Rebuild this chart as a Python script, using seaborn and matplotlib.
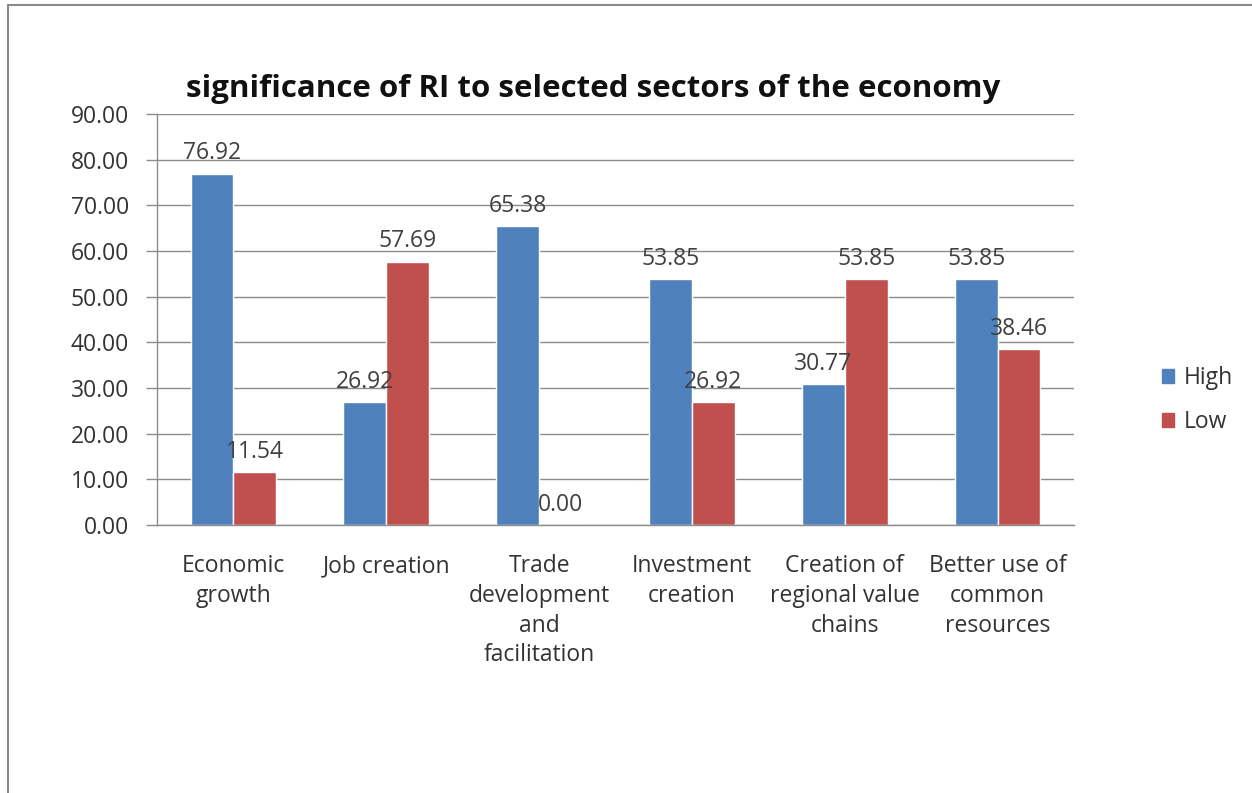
import matplotlib
matplotlib.use("Agg")
import matplotlib.pyplot as plt
import seaborn as sns
import pandas as pd
from matplotlib.lines import Line2D
from matplotlib.patches import Rectangle

categories = [
    "Economic\ngrowth",
    "Job creation",
    "Trade\ndevelopment\nand\nfacilitation",
    "Investment\ncreation",
    "Creation of\nregional value\nchains",
    "Better use of\ncommon\nresources",
]
high = [76.92, 26.92, 65.38, 53.85, 30.77, 53.85]
low = [11.54, 57.69, 0.00, 26.92, 53.85, 38.46]
series = ["High", "Low"]
colors = ["#4F81BD", "#C0504D"]
yticks = [0, 10, 20, 30, 40, 50, 60, 70, 80, 90]

df = pd.DataFrame({
    "sector": categories * 2,
    "level": ["High"] * len(categories) + ["Low"] * len(categories),
    "value": high + low,
})

sns.set_theme(style="white")
plt.rcParams["font.family"] = ["Open Sans", "DejaVu Sans"]

fs = 16.5
fig = plt.figure(figsize=(12.52, 7.93), dpi=100)
ax = fig.add_axes([157 / 1252, 1 - 525 / 793, (1074 - 157) / 1252, (525 - 114) / 793])

sns.barplot(data=df, x="sector", y="value", hue="level", order=categories,
            hue_order=series, palette=colors, width=0.56, gap=0,
            saturation=1, errorbar=None, ax=ax, legend=False)

for cont in ax.containers:
    ax.bar_label(cont, fmt="%.2f", padding=6, fontsize=fs, color="#404040")

grid_c = "#8C8C8C"
ax.set_ylim(0, 90)
ax.set_yticks(yticks)
ax.set_yticklabels([f"{v:.2f}" for v in yticks], fontsize=fs, color="#333333")
ax.set_xlim(-0.5, len(categories) - 0.5)
ax.set_xticks(range(len(categories)))
ax.set_xticklabels(categories, fontsize=fs, color="#333333", linespacing=1.32,
                   va="top")
ax.set_xticks([i - 0.5 for i in range(len(categories) + 1)], minor=True)
ax.tick_params(axis="x", which="major", length=0, pad=21)
ax.tick_params(axis="x", which="minor", length=7, color=grid_c, width=1, direction="out")
ax.tick_params(axis="y", length=8, color=grid_c, width=1, direction="out", left=True, pad=12)
ax.set_axisbelow(True)
ax.yaxis.grid(True, color=grid_c, linewidth=1)
ax.xaxis.grid(False)
for s in ["top", "right"]:
    ax.spines[s].set_visible(False)
for s in ["left", "bottom"]:
    ax.spines[s].set_color(grid_c)
    ax.spines[s].set_linewidth(1)
ax.set_xlabel("")
ax.set_ylabel("")

fig.text(593 / 1252, 1 - 89 / 793, "significance of RI to selected sectors of the economy",
         ha="center", va="center", fontsize=22.5, fontweight="bold", color="#111111")

handles = [Rectangle((0, 0), 1, 1, color=c) for c in colors]
fig.legend(handles, series, loc="center left", bbox_to_anchor=(1141 / 1252, 1 - 400 / 793),
           frameon=False, fontsize=fs, handlelength=0.55, handleheight=0.55,
           handletextpad=0.4, labelspacing=0.85, labelcolor="#333333")

# outer frame lines (top and left)
fig.add_artist(Line2D([8 / 1252, 1], [1 - 5 / 793, 1 - 5 / 793], color="#8A8A8A", lw=1.5,
                      transform=fig.transFigure))
fig.add_artist(Line2D([8 / 1252, 8 / 1252], [0, 1 - 5 / 793], color="#8A8A8A", lw=1.5,
                      transform=fig.transFigure))

fig.savefig("out.png", dpi=100, facecolor="white")
